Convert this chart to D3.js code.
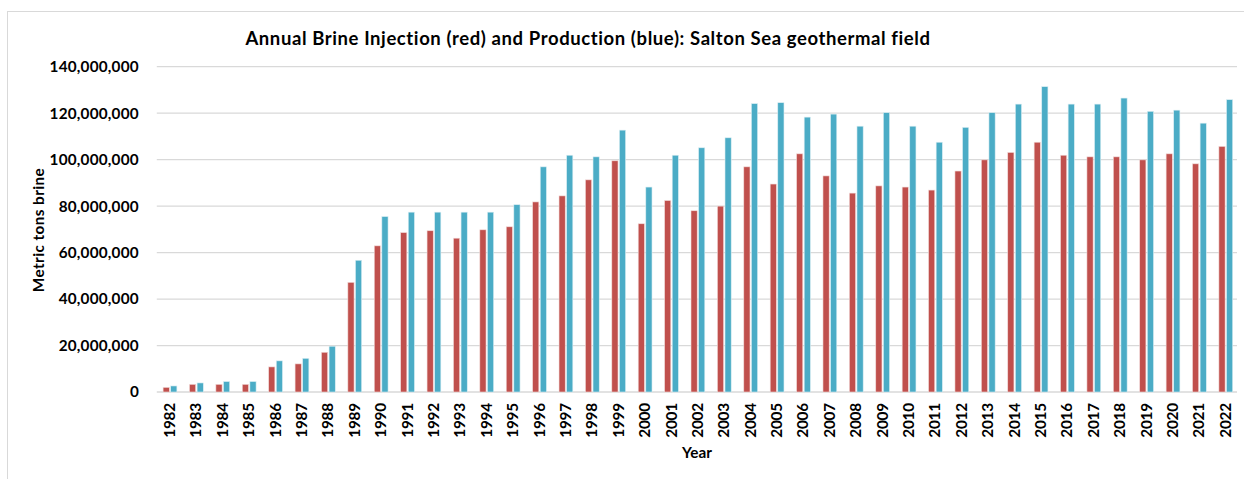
<!DOCTYPE html>
<html><head><meta charset="utf-8">
<script src="https://cdn.jsdelivr.net/npm/d3@7"></script>
<style>body{margin:0;background:#fff}svg{display:block}text{font-family:Lato,"Open Sans",sans-serif;font-weight:bold;fill:#000}</style>
</head><body><svg id="c" width="1244" height="479"></svg>
<script>
const years = d3.range(1982, 2023).map(String);
const injection = [2.0,3.3,3.3,3.3,10.8,12.1,17.1,47.2,62.9,68.6,69.4,66.2,69.8,71.1,81.8,84.4,91.3,99.5,72.4,82.4,78.0,80.0,96.9,89.5,102.5,93.0,85.6,88.7,88.2,86.9,95.1,99.9,103.1,107.5,101.9,101.2,101.2,99.9,102.5,98.2,105.7].map(v=>v*1e6);
const production = [2.6,3.9,4.5,4.5,13.4,14.5,19.7,56.7,75.5,77.4,77.4,77.4,77.4,80.6,96.9,101.9,101.2,112.7,88.2,101.9,105.1,109.4,124.1,124.5,118.3,119.6,114.4,120.2,114.4,107.5,113.9,120.2,123.9,131.4,123.9,123.9,126.5,120.8,121.3,115.7,125.8].map(v=>v*1e6);
const yTicks = [0,20e6,40e6,60e6,80e6,100e6,120e6,140e6];
const title = "Annual Brine Injection (red) and Production (blue): Salton Sea geothermal field";

const svg = d3.select("#c");
svg.append("rect").attr("x",7.5).attr("y",11.5).attr("width",1300).attr("height",600).attr("fill","#fff").attr("stroke","#d9d9d9");

// stretch text to a target width using letter-spacing
function fit(sel, target){
  sel.each(function(){
    const n = this.textContent.length;
    const w = this.getComputedTextLength();
    const ls = (target - w)/(n-1);
    d3.select(this).style("letter-spacing", ls+"px");
  });
}

const L=156.8, R=1239, T=66.7, B=392;
const x = d3.scaleBand().domain(years).range([L,R]).padding(0);
const y = d3.scaleLinear().domain([0,140e6]).range([B,T]);
const fmt = d3.format(",");

svg.append("g").selectAll("line").data(yTicks).join("line")
 .attr("x1",L).attr("x2",1237).attr("y1",d=>y(d)).attr("y2",d=>y(d))
 .attr("stroke","#d9d9d9").attr("stroke-width",1.3);

const yAxis = svg.append("g").attr("transform",`translate(${L},0)`)
 .call(d3.axisLeft(y).tickValues(yTicks).tickFormat(d=>fmt(d)).tickSize(0).tickPadding(18));
yAxis.select(".domain").remove();
yAxis.selectAll("text").style("font-size","15.3px").style("font-family","Lato,sans-serif").style("font-weight","bold");
yAxis.selectAll("text").each(function(){
  const s = this.textContent;
  fit(d3.select(this), 89*s.length/11 + (s.length<11?-1:0));
});

const bw = 6.2, gap = 0.7;
svg.append("g").selectAll("rect").data(years).join("rect")
 .attr("x",d=>x(d)+x.bandwidth()/2-gap-bw).attr("width",bw)
 .attr("y",(d,i)=>y(injection[i])).attr("height",(d,i)=>B-y(injection[i]))
 .attr("fill","#C0504D").attr("stroke","#f2dcdb").attr("stroke-width",0.6);
svg.append("g").selectAll("rect").data(years).join("rect")
 .attr("x",d=>x(d)+x.bandwidth()/2+gap).attr("width",bw)
 .attr("y",(d,i)=>y(production[i])).attr("height",(d,i)=>B-y(production[i]))
 .attr("fill","#4BACC6").attr("stroke","#dbeef3").attr("stroke-width",0.6);

const xAxis = svg.append("g").attr("transform",`translate(0,${B})`)
 .call(d3.axisBottom(x).tickSize(0).tickPadding(0));
xAxis.select(".domain").remove();
xAxis.selectAll("text").attr("transform","rotate(-90)").attr("text-anchor","end")
 .attr("x",-11).attr("y",5).attr("dy","0em")
 .style("font-size","15.3px").style("font-family","Lato,sans-serif").style("font-weight","bold");
fit(xAxis.selectAll("text"), 35);

const t = svg.append("text").attr("x",588).attr("y",45).attr("text-anchor","middle").style("font-size","18.5px").text(title);
fit(t, 685);
const yt = svg.append("text").attr("transform","translate(44,230) rotate(-90)").attr("text-anchor","middle").style("font-size","15.3px").text("Metric tons brine");
fit(yt, 124);
const xt = svg.append("text").attr("x",697).attr("y",458).attr("text-anchor","middle").style("font-size","15.3px").text("Year");
fit(xt, 30);
</script></body></html>
